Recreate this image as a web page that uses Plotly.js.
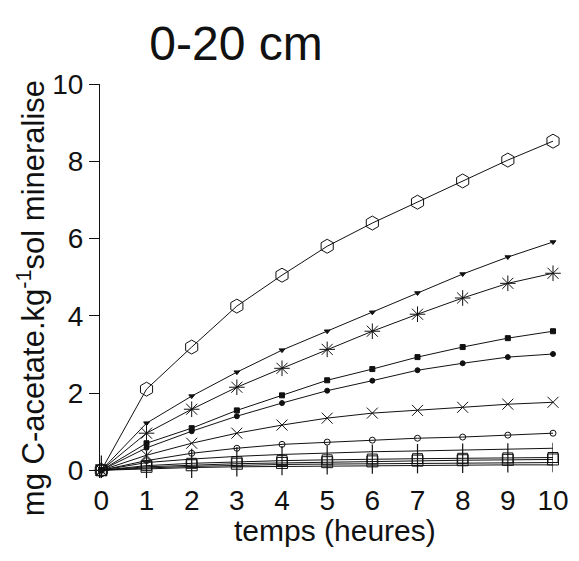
<!DOCTYPE html>
<html>
<head>
<meta charset="utf-8">
<script src="https://cdn.plot.ly/plotly-3.0.1.min.js"></script>
<style>html,body{margin:0;padding:0;background:#fff;}#chart{width:579px;height:561px;}</style>
</head>
<body>
<div id="chart"></div>
<script>
// hours
const temps = [0, 1, 2, 3, 4, 5, 6, 7, 8, 9, 10];
const tickLabels = ["0","1","2","3","4","5","6","7","8","9","10"];
const yTicks = [0, 2, 4, 6, 8, 10];
const titre = "0-20 cm";
const titreX = "temps (heures)";
const titreY = "mg C-acetate.kg<sup>-1</sup>sol mineralise";
// series values (mg C-acetate / kg sol mineralise)
const serieHexagone = [0, 2.10, 3.19, 4.25, 5.05, 5.80, 6.40, 6.94, 7.49, 8.03, 8.52];
const serieTriangle = [0, 1.22, 1.92, 2.54, 3.11, 3.60, 4.09, 4.59, 5.08, 5.52, 5.91];
const serieEtoile   = [0, 0.96, 1.58, 2.15, 2.64, 3.13, 3.60, 4.04, 4.46, 4.84, 5.10];
const serieCarre    = [0, 0.70, 1.09, 1.55, 1.94, 2.33, 2.62, 2.93, 3.19, 3.42, 3.60];
const serieRond     = [0, 0.58, 1.01, 1.40, 1.74, 2.06, 2.32, 2.59, 2.77, 2.93, 3.01];
const serieCroix    = [0, 0.39, 0.70, 0.96, 1.17, 1.35, 1.48, 1.55, 1.63, 1.71, 1.76];
const serieRondVide = [0, 0.25, 0.44, 0.57, 0.67, 0.73, 0.78, 0.83, 0.86, 0.91, 0.96];
const serieLigne    = [0, 0.20, 0.29, 0.36, 0.41, 0.45, 0.48, 0.50, 0.52, 0.55, 0.57];
const seriePlus     = [0, 0.12, 0.18, 0.22, 0.25, 0.27, 0.29, 0.30, 0.31, 0.32, 0.33];
const serieCarreVide= [0, 0.09, 0.13, 0.17, 0.19, 0.21, 0.23, 0.25, 0.26, 0.27, 0.28];
const serieBasA     = [0, 0.06, 0.10, 0.13, 0.15, 0.16, 0.17, 0.18, 0.19, 0.20, 0.20];
const serieBasB     = [0, 0.04, 0.07, 0.09, 0.10, 0.11, 0.12, 0.13, 0.13, 0.14, 0.14];

const FONT = "Liberation Sans, Arial, Helvetica, sans-serif";

function tr(y, symbol, size, color, mode) {
  return {
    x: temps, y: y, type: "scatter", mode: mode || "lines+markers",
    line: {color: "#111", width: 1},
    marker: {symbol: symbol, size: size, color: color || "#111", line: {color: "#111", width: 1}},
    cliponaxis: false, showlegend: false, hoverinfo: "x+y"
  };
}

// "+" series: drawn as an open square with a vertical stroke through each point
const plusTrace = tr(seriePlus, "square-open", 10);
plusTrace.error_y = {type: "constant", value: 0.38, symmetric: true, visible: true,
                     color: "#111", thickness: 1.2, width: 0};

const data = [
  tr(serieBasB, "circle", 1, "#111", "lines"),
  tr(serieBasA, "circle", 1, "#111", "lines"),
  tr(serieCarreVide, "square-open", 11),
  plusTrace,
  tr(serieLigne, "circle", 1, "#111", "lines"),
  tr(serieRondVide, "circle-open", 6),
  tr(serieCroix, "x-thin-open", 11),
  tr(serieRond, "circle", 5),
  tr(serieCarre, "square", 5),
  tr(serieEtoile, "asterisk-open", 13),
  tr(serieTriangle, "triangle-down", 5),
  tr(serieHexagone, "hexagon-open", 14)
];

const layout = {
  width: 579, height: 561,
  margin: {l: 100, r: 26, t: 84, b: 83},
  paper_bgcolor: "#fff", plot_bgcolor: "#fff",
  font: {family: FONT, color: "#111"},
  title: {text: titre, font: {family: FONT, size: 48, color: "#111"},
          x: 236/579, xanchor: "center", xref: "container",
          y: 1 - 43/561, yanchor: "middle", yref: "container"},
  xaxis: {
    range: [-0.03, 10], tickvals: temps, ticktext: tickLabels,
    showline: false, showgrid: false, zeroline: false, ticks: "",
    tickfont: {family: FONT, size: 28, color: "#111"},
    ticklabelstandoff: 3
  },
  yaxis: {
    range: [-0.2, 10], tickvals: yTicks, ticktext: yTicks.map(String),
    showline: true, linecolor: "#111", linewidth: 1, mirror: false,
    showgrid: false, zeroline: false, ticks: "outside", ticklen: 10, tickcolor: "#111", tickwidth: 1,
    tickfont: {family: FONT, size: 28, color: "#111"}
  },
  annotations: [
    {text: titreX, xref: "paper", yref: "paper", x: (335-100)/453, y: (477.7-530)/393.7,
     xanchor: "center", yanchor: "middle", showarrow: false,
     font: {family: FONT, size: 30, color: "#111"}},
    {text: titreY, xref: "paper", yref: "paper", x: (31-100)/453, y: (477.7-298)/393.7,
     xanchor: "center", yanchor: "middle", showarrow: false, textangle: -90,
     font: {family: FONT, size: 31, color: "#111"}}
  ]
};

Plotly.newPlot("chart", data, layout, {displayModeBar: false, staticPlot: true});
</script>
</body>
</html>
